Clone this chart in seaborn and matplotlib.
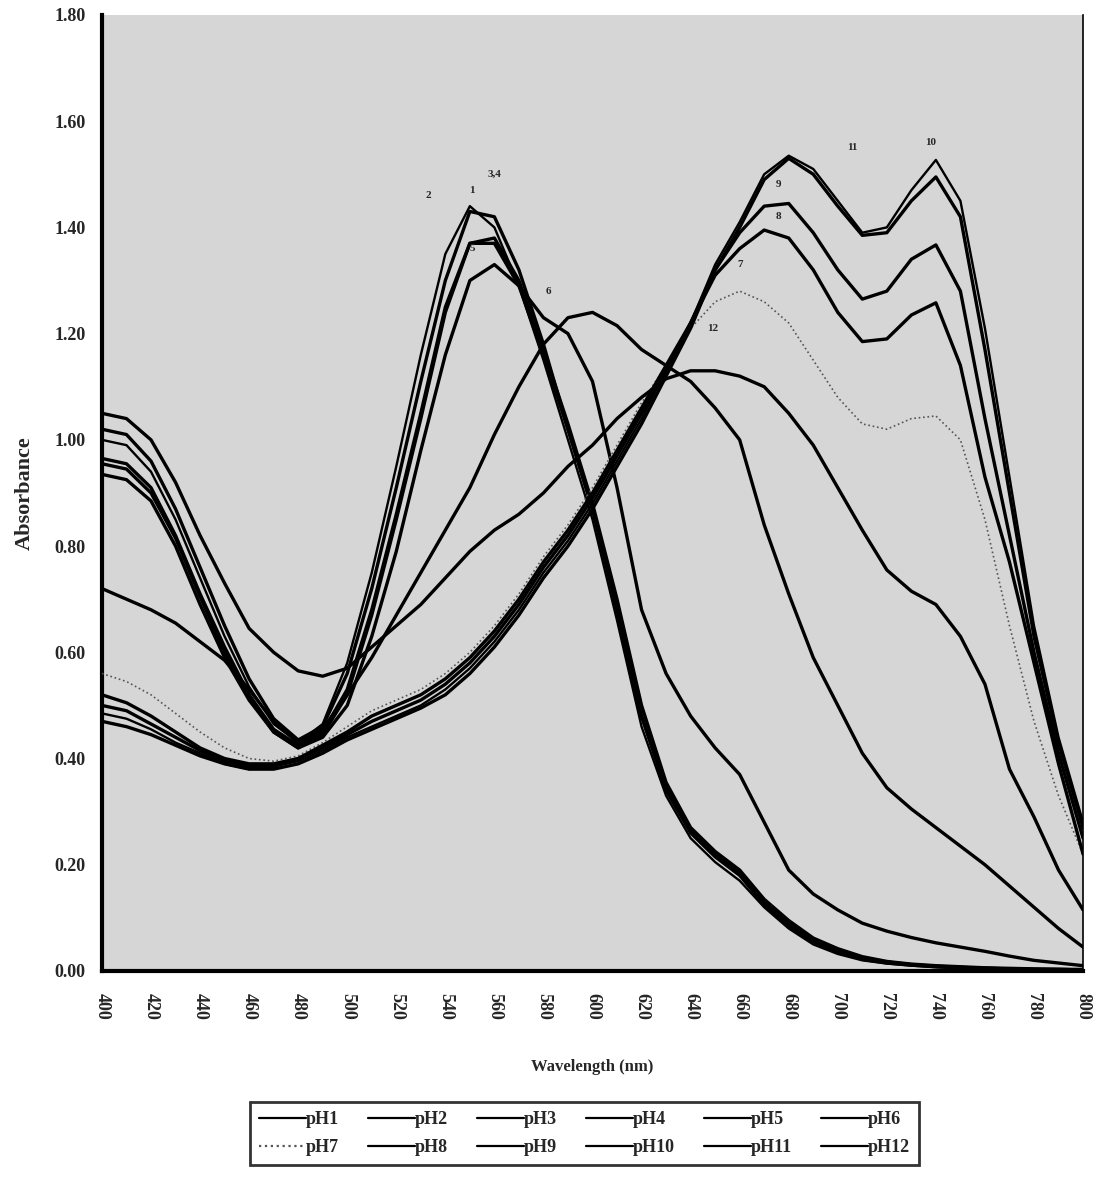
import matplotlib
matplotlib.use("Agg")
import matplotlib.pyplot as plt
import seaborn as sns
import pandas as pd
import numpy as np

wavelength = list(range(400, 801, 10))

ph1 = [1.02, 1.01, 0.96, 0.87, 0.76, 0.65, 0.55, 0.475, 0.435, 0.46,
       0.56, 0.72, 0.91, 1.11, 1.30, 1.43, 1.42, 1.32, 1.18, 1.02,
       0.87, 0.68, 0.48, 0.34, 0.26, 0.215, 0.18, 0.125, 0.085, 0.055,
       0.035, 0.022, 0.015, 0.011, 0.008, 0.006, 0.005, 0.004, 0.003, 0.003, 0.002]
ph2 = [1.00, 0.99, 0.94, 0.85, 0.74, 0.63, 0.535, 0.465, 0.43, 0.465,
       0.58, 0.75, 0.95, 1.16, 1.35, 1.44, 1.40, 1.29, 1.15, 1.00,
       0.85, 0.66, 0.46, 0.33, 0.25, 0.205, 0.17, 0.12, 0.08, 0.05,
       0.032, 0.02, 0.014, 0.01, 0.007, 0.005, 0.004, 0.003, 0.003, 0.002, 0.002]
ph3 = [0.965, 0.955, 0.91, 0.82, 0.71, 0.61, 0.52, 0.455, 0.425, 0.45,
       0.53, 0.68, 0.86, 1.05, 1.25, 1.37, 1.37, 1.29, 1.16, 1.02,
       0.87, 0.68, 0.48, 0.345, 0.265, 0.22, 0.185, 0.13, 0.09, 0.06,
       0.04, 0.025, 0.017, 0.012, 0.009, 0.007, 0.005, 0.004, 0.003, 0.003, 0.002]
ph4 = [0.955, 0.945, 0.90, 0.815, 0.705, 0.60, 0.515, 0.45, 0.42, 0.445,
       0.52, 0.67, 0.85, 1.04, 1.24, 1.37, 1.38, 1.30, 1.17, 1.03,
       0.88, 0.70, 0.50, 0.355, 0.27, 0.225, 0.19, 0.135, 0.095, 0.062,
       0.042, 0.027, 0.018, 0.013, 0.01, 0.008, 0.006, 0.005, 0.004, 0.003, 0.003]
ph5 = [0.935, 0.925, 0.885, 0.80, 0.69, 0.59, 0.51, 0.45, 0.42, 0.44,
       0.50, 0.63, 0.79, 0.98, 1.16, 1.30, 1.33, 1.29, 1.23, 1.20,
       1.11, 0.91, 0.68, 0.56, 0.48, 0.42, 0.37, 0.28, 0.19, 0.145,
       0.115, 0.09, 0.075, 0.063, 0.053, 0.045, 0.037, 0.028, 0.02, 0.015, 0.01]
ph6 = [0.72, 0.70, 0.68, 0.655, 0.62, 0.585, 0.53, 0.47, 0.43, 0.455,
       0.52, 0.59, 0.67, 0.75, 0.83, 0.91, 1.01, 1.10, 1.18, 1.23,
       1.24, 1.215, 1.17, 1.14, 1.11, 1.06, 1.00, 0.84, 0.71, 0.59,
       0.50, 0.41, 0.345, 0.305, 0.27, 0.235, 0.20, 0.16, 0.12, 0.08, 0.045]
ph7 = [0.56, 0.545, 0.52, 0.485, 0.45, 0.42, 0.40, 0.395, 0.405, 0.43,
       0.46, 0.49, 0.51, 0.53, 0.56, 0.60, 0.65, 0.71, 0.78, 0.84,
       0.91, 0.99, 1.07, 1.14, 1.21, 1.26, 1.28, 1.26, 1.22, 1.15,
       1.08, 1.03, 1.02, 1.04, 1.045, 1.00, 0.85, 0.65, 0.47, 0.33, 0.22]
ph8 = [0.52, 0.505, 0.48, 0.45, 0.42, 0.40, 0.39, 0.39, 0.40, 0.425,
       0.45, 0.48, 0.50, 0.52, 0.55, 0.59, 0.64, 0.70, 0.77, 0.83,
       0.90, 0.98, 1.06, 1.14, 1.22, 1.31, 1.36, 1.395, 1.38, 1.32,
       1.24, 1.185, 1.19, 1.235, 1.258, 1.14, 0.93, 0.77, 0.58, 0.39, 0.22]
ph9 = [0.50, 0.49, 0.465, 0.44, 0.415, 0.395, 0.385, 0.385, 0.40, 0.42,
       0.445, 0.47, 0.49, 0.51, 0.54, 0.58, 0.63, 0.69, 0.76, 0.82,
       0.89, 0.97, 1.05, 1.13, 1.22, 1.32, 1.39, 1.44, 1.445, 1.39,
       1.32, 1.265, 1.28, 1.34, 1.367, 1.28, 1.04, 0.82, 0.60, 0.41, 0.25]
ph10 = [0.485, 0.475, 0.455, 0.43, 0.41, 0.39, 0.38, 0.385, 0.395, 0.415,
        0.44, 0.46, 0.48, 0.50, 0.53, 0.57, 0.62, 0.68, 0.75, 0.81,
        0.88, 0.96, 1.04, 1.13, 1.22, 1.33, 1.41, 1.50, 1.535, 1.51,
        1.45, 1.39, 1.40, 1.47, 1.527, 1.45, 1.21, 0.93, 0.65, 0.44, 0.28]
ph11 = [0.47, 0.46, 0.445, 0.425, 0.405, 0.39, 0.38, 0.38, 0.39, 0.41,
        0.435, 0.455, 0.475, 0.495, 0.52, 0.56, 0.61, 0.67, 0.74, 0.80,
        0.87, 0.95, 1.03, 1.12, 1.21, 1.32, 1.40, 1.49, 1.53, 1.50,
        1.44, 1.385, 1.39, 1.45, 1.495, 1.42, 1.17, 0.90, 0.63, 0.43, 0.27]
ph12 = [1.05, 1.04, 1.00, 0.92, 0.82, 0.73, 0.645, 0.60, 0.565, 0.555,
        0.57, 0.61, 0.65, 0.69, 0.74, 0.79, 0.83, 0.86, 0.90, 0.95,
        0.99, 1.04, 1.08, 1.115, 1.13, 1.13, 1.12, 1.10, 1.05, 0.99,
        0.91, 0.83, 0.755, 0.715, 0.69, 0.63, 0.54, 0.38, 0.29, 0.19, 0.115]

series_names = ["pH1", "pH2", "pH3", "pH4", "pH5", "pH6",
                "pH7", "pH8", "pH9", "pH10", "pH11", "pH12"]
series_values = [ph1, ph2, ph3, ph4, ph5, ph6, ph7, ph8, ph9, ph10, ph11, ph12]

curve_labels = ["2", "1", "3,4", "5", "6", "7", "8", "9", "11", "10", "12"]
label_wl = [533, 551, 560, 551, 582, 660, 676, 676, 706, 738, 649]
label_abs = [1.46, 1.47, 1.50, 1.36, 1.28, 1.33, 1.42, 1.48, 1.55, 1.56, 1.21]

x_ticks = list(range(400, 801, 20))
y_ticks = [0.0, 0.2, 0.4, 0.6, 0.8, 1.0, 1.2, 1.4, 1.6, 1.8]

rows = []
for name, vals in zip(series_names, series_values):
    for w, v in zip(wavelength, vals):
        rows.append({"Wavelength": w, "Absorbance": v, "pH": name})
df = pd.DataFrame(rows)

sns.set_theme(style="white")
plt.rcParams["font.family"] = ["Liberation Serif", "DejaVu Serif"]
plt.rcParams["font.weight"] = "bold"

fig = plt.figure(figsize=(11.01, 11.86), dpi=100)
ax = fig.add_axes([0.0926, 0.1813, 0.8911, 0.8061])
ax.set_facecolor("#d6d6d6")

widths = {"pH2": 1.7, "pH7": 1.2, "pH10": 1.7}
for name in series_names:
    sub = df[df["pH"] == name]
    ls = ":" if name == "pH7" else "-"
    col = "#555555" if name == "pH7" else "black"
    sns.lineplot(data=sub, x="Wavelength", y="Absorbance", ax=ax,
                 color=col, linewidth=widths.get(name, 2.4), linestyle=ls,
                 label=name, legend=False, zorder=3)

for t, w, a in zip(curve_labels, label_wl, label_abs):
    ax.text(w, a, t, fontsize=8, fontweight="bold", ha="center", va="center", zorder=4)

ax.set_xlim(400, 800)
ax.set_ylim(0, 1.8)
ax.set_xticks(x_ticks)
ax.set_xticklabels([str(v) for v in x_ticks], rotation=-90, fontsize=13, fontweight="bold")
ax.set_yticks(y_ticks)
ax.set_yticklabels([f"{v:.2f}" for v in y_ticks], fontsize=13, fontweight="bold")
ax.tick_params(axis="both", direction="out", length=6, width=2, color="black", pad=6)
ax.tick_params(axis="x", pad=10)

ax.spines["top"].set_visible(False)
ax.spines["left"].set_linewidth(3)
ax.spines["bottom"].set_linewidth(3)
ax.spines["right"].set_linewidth(1.2)
for s in ax.spines.values():
    s.set_color("black")

ax.set_xlabel("Wavelength (nm)", fontsize=12, fontweight="bold", labelpad=28)
ax.set_ylabel("Absorbance", fontsize=16, fontweight="bold", labelpad=14)

lines = ax.get_lines()[:12]
# legend filled row by row (6 per row)
order = []
for c in range(6):
    order += [c, c + 6]
handles = [lines[i] for i in order]
labels = [series_names[i] for i in order]
leg = fig.legend(handles, labels, loc="center", bbox_to_anchor=(0.531, 0.044),
                 ncol=6, frameon=True, fancybox=False, edgecolor="black",
                 handlelength=2.6, handletextpad=0.0, columnspacing=1.6,
                 borderpad=0.5, labelspacing=0.6,
                 prop={"family": "Liberation Serif", "weight": "bold", "size": 13})
leg.get_frame().set_linewidth(2)
for ln in leg.get_lines():
    ln.set_linewidth(1.6)

fig.savefig("out.png", dpi=100)
